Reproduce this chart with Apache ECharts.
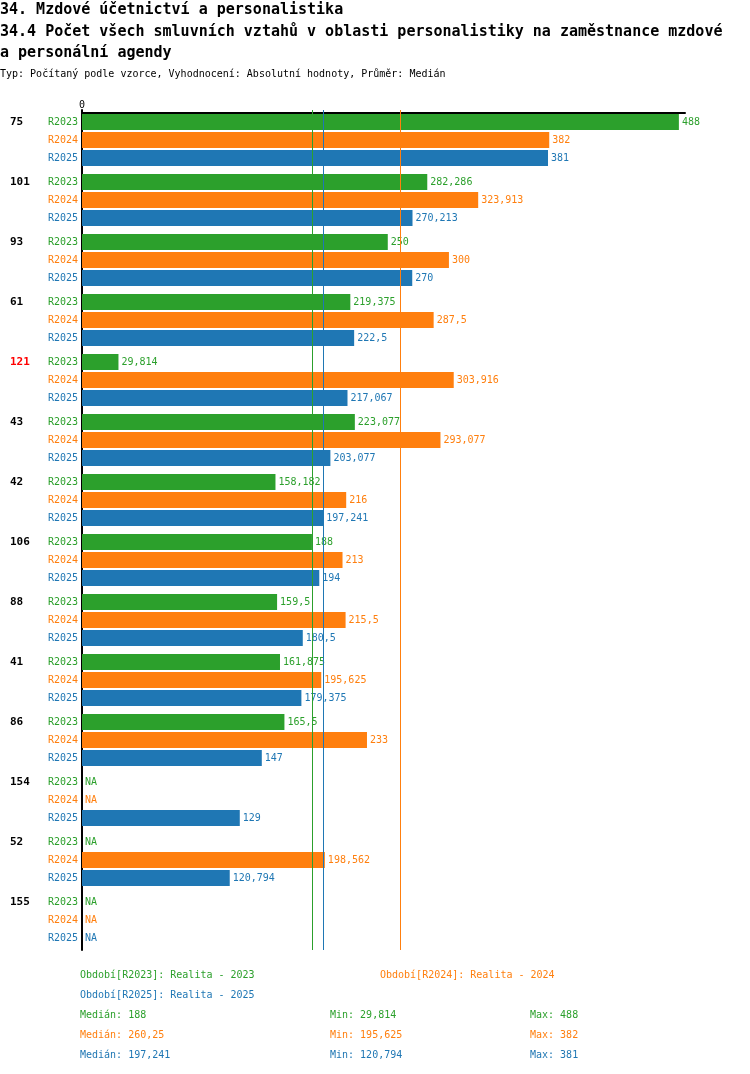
<!DOCTYPE html>
<html>
<head>
<meta charset="utf-8">
<script src="https://cdn.jsdelivr.net/npm/echarts@6/dist/echarts.min.js"></script>
<style>
html,body{margin:0;padding:0;background:#fff;}
#chart{width:750px;height:1074px;}
</style>
</head>
<body>
<div id="chart"></div>
<script>
const titleLines = [
  '34. Mzdové účetnictví a personalistika',
  '34.4 Počet všech smluvních vztahů v oblasti personalistiky na zaměstnance mzdové',
  'a personální agendy'
];
const subtitle = 'Typ: Počítaný podle vzorce, Vyhodnocení: Absolutní hodnoty, Průměr: Medián';
const categories = ['75','101','93','61','121','43','42','106','88','41','86','154','52','155'];
const highlighted = ['121'];
const seriesNames = ['R2023','R2024','R2025'];
const periodLabels = ['Období[R2023]: Realita - 2023','Období[R2024]: Realita - 2024','Období[R2025]: Realita - 2025'];
const colors = ['#2ca02c','#ff7f0e','#1f77b4'];
const r2023 = [488, 282.286, 250, 219.375, 29.814, 223.077, 158.182, 188, 159.5, 161.875, 165.5, null, null, null];
const r2024 = [382, 323.913, 300, 287.5, 303.916, 293.077, 216, 213, 215.5, 195.625, 233, null, 198.562, null];
const r2025 = [381, 270.213, 270, 222.5, 217.067, 203.077, 197.241, 194, 180.5, 179.375, 147, 129, 120.794, null];
const seriesData = [r2023, r2024, r2025];

const FONT = '"DejaVu Sans Mono", monospace';
const fmt = v => String(Math.round(v * 1000) / 1000).replace('.', ',');
function median(arr) {
  const a = arr.filter(v => v != null).sort((x, y) => x - y);
  const n = a.length;
  return n % 2 ? a[(n - 1) / 2] : (a[n / 2 - 1] + a[n / 2]) / 2;
}
const stats = seriesData.map(d => {
  const a = d.filter(v => v != null);
  return { med: median(d), min: Math.min(...a), max: Math.max(...a) };
});

const barSeries = seriesData.map((d, k) => ({
  name: seriesNames[k],
  type: 'bar',
  barWidth: 16,
  barGap: '12.5%',
  data: d.map(v => v == null ? { value: 0, na: true } : v),
  itemStyle: { color: colors[k] },
  label: {
    show: true,
    position: 'right',
    distance: 3,
    color: colors[k],
    fontFamily: FONT,
    fontSize: 10,
    formatter: p => (p.data && p.data.na) ? 'NA' : fmt(p.value)
  },
  markLine: {
    silent: true,
    symbol: 'none',
    label: { show: false },
    lineStyle: { color: colors[k], width: 1, type: 'solid' },
    data: [{ xAxis: stats[k].med }]
  }
}));

const labelSeries = {
  type: 'custom',
  clip: false,
  silent: true,
  data: categories.map((c, i) => [0, i]),
  encode: { x: 0, y: 1 },
  renderItem: (params, api) => {
    const i = api.value(1);
    const cy = api.coord([0, i])[1];
    const children = [{
      type: 'text',
      style: {
        text: categories[i], x: 10, y: cy - 18,
        fill: highlighted.includes(categories[i]) ? '#ff0000' : '#000',
        font: 'bold 11px ' + FONT, align: 'left', verticalAlign: 'middle'
      }
    }];
    seriesNames.forEach((n, k) => children.push({
      type: 'text',
      style: {
        text: n, x: 78, y: cy - 18 + 18 * k, fill: colors[k],
        font: '10px ' + FONT, align: 'right', verticalAlign: 'middle'
      }
    }));
    return { type: 'group', children };
  }
};

const graphics = [];
const titleY = [10, 32, 53];
titleLines.forEach((t, i) => graphics.push({
  type: 'text', x: 0, y: titleY[i],
  style: { text: t, fill: '#000', font: 'bold 15px ' + FONT, verticalAlign: 'middle' }
}));
graphics.push({
  type: 'text', x: 0, y: 74,
  style: { text: subtitle, fill: '#000', font: '10px ' + FONT, verticalAlign: 'middle' }
});
const legendPos = [[80, 975], [380, 975], [80, 995]];
periodLabels.forEach((t, k) => graphics.push({
  type: 'text', x: legendPos[k][0], y: legendPos[k][1],
  style: { text: t, fill: colors[k], font: '10px ' + FONT, verticalAlign: 'middle' }
}));
stats.forEach((s, k) => {
  const y = 1015 + 20 * k;
  [['Medián: ' + fmt(s.med), 80], ['Min: ' + fmt(s.min), 330], ['Max: ' + fmt(s.max), 530]].forEach(([t, x]) => graphics.push({
    type: 'text', x: x, y: y,
    style: { text: t, fill: colors[k], font: '10px ' + FONT, verticalAlign: 'middle' }
  }));
});

const option = {
  animation: false,
  grid: { left: 82, right: 65, top: 110, height: 840 },
  xAxis: {
    type: 'value', position: 'top', min: 0, max: 493, offset: -3,
    axisLine: { show: true, lineStyle: { color: '#000', width: 2 } },
    axisTick: { show: false },
    splitLine: { show: false },
    axisLabel: { formatter: v => v === 0 ? '0' : '', fontFamily: FONT, fontSize: 10, color: '#000', margin: 3 }
  },
  yAxis: {
    type: 'category', inverse: true, data: categories, offset: 1,
    axisLine: { show: true, lineStyle: { color: '#000', width: 2 } },
    axisTick: { show: false },
    axisLabel: { show: false }
  },
  graphic: graphics,
  series: [...barSeries, labelSeries]
};

const chart = echarts.init(document.getElementById('chart'), null, { renderer: 'canvas' });
chart.setOption(option);
</script>
</body>
</html>
